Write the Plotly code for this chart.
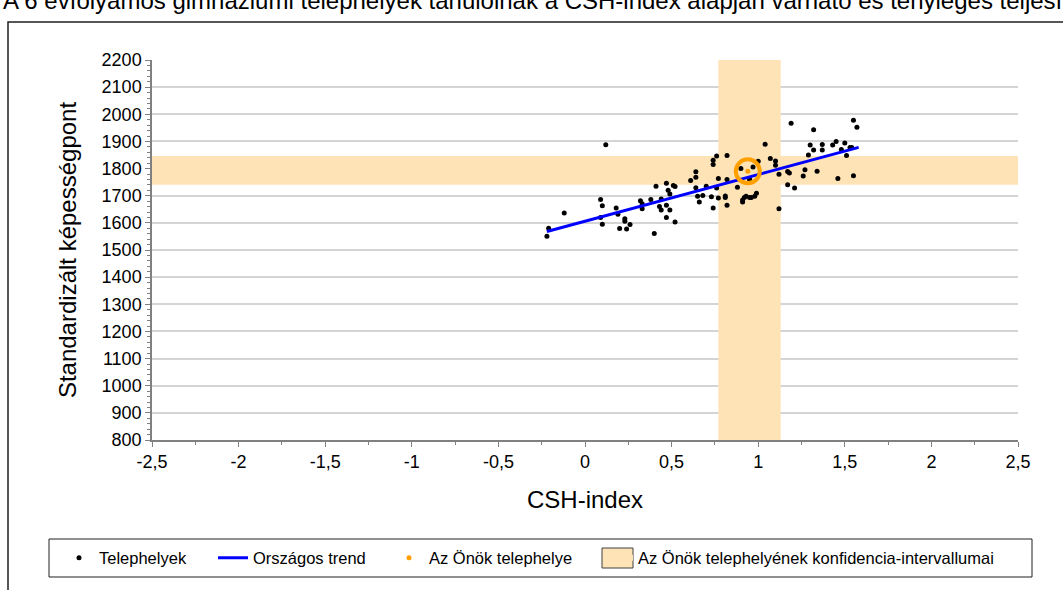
import plotly.graph_objects as go

# ---- data ----
site_csh = [-0.22, -0.21, -0.12, 0.09, 0.10, 0.09, 0.10, 0.12, 0.18, 0.19, 0.20, 0.23, 0.23, 0.24, 0.26,
            0.32, 0.33, 0.33, 0.38, 0.40, 0.41, 0.43, 0.44, 0.44, 0.47, 0.47, 0.48, 0.49, 0.49, 0.47,
            0.52, 0.51, 0.52, 0.61, 0.64, 0.64, 0.64, 0.65, 0.66, 0.68, 0.70, 0.73, 0.74, 0.74, 0.74,
            0.76, 0.76, 0.77, 0.81, 0.81, 0.82, 0.82, 0.82, 0.88, 0.90, 0.95, 0.97, 1.00, 1.04, 1.07,
            1.10, 1.10, 0.92, 0.93, 0.95, 0.96, 0.98, 0.99, 0.91, 1.12, 1.12, 1.17, 1.17, 1.18, 1.21,
            1.19, 1.26, 1.27, 1.29, 1.30, 1.32, 1.32, 1.34, 1.37, 1.37, 1.43, 1.45, 1.46, 1.48, 1.50,
            1.51, 1.53, 1.54, 1.55, 1.55, 1.57, 0.91, 0.77]
site_score = [1551, 1580, 1636, 1686, 1663, 1620, 1595, 1888, 1655, 1632, 1579, 1615, 1606, 1577, 1594,
              1681, 1670, 1652, 1686, 1561, 1735, 1660, 1647, 1688, 1665, 1746, 1720, 1706, 1647, 1620,
              1603, 1738, 1734, 1756, 1788, 1768, 1729, 1698, 1677, 1701, 1735, 1696, 1655, 1815, 1831,
              1846, 1728, 1692, 1699, 1693, 1665, 1848, 1760, 1731, 1800, 1761, 1806, 1827, 1890, 1837,
              1828, 1812, 1693, 1698, 1693, 1693, 1698, 1709, 1677, 1652, 1779, 1740, 1789, 1784, 1728,
              1967, 1773, 1796, 1850, 1887, 1868, 1943, 1790, 1889, 1868, 1887, 1900, 1763, 1870, 1894,
              1848, 1878, 1878, 1774, 1978, 1952, 1684, 1763]

trend_csh = [-0.22, 1.58]
trend_score = [1568, 1878]

own_csh = [0.94]
own_score = [1790]

ci_csh = [0.77, 1.13]
ci_score = [1740, 1846]

x_range = [-2.5, 2.5]
y_range = [800, 2200]
x_tick_vals = [-2.5, -2, -1.5, -1, -0.5, 0, 0.5, 1, 1.5, 2, 2.5]
x_tick_labels = ["-2,5", "-2", "-1,5", "-1", "-0,5", "0", "0,5", "1", "1,5", "2", "2,5"]

title_text = "A 6 évfolyamos gimnáziumi telephelyek tanulóinak a CSH-index alapján várható és tényleges teljesítménye"
names = ["Telephelyek", "Országos trend", "Az Önök telephelye",
         "Az Önök telephelyének konfidencia-intervallumai"]

FONT = "Arial, 'Liberation Sans', sans-serif"
BAND = "#FDE3B6"
ORANGE = "#FFA000"

W, H = 1063, 590
L, R, T, B = 152, 45, 60, 150
pw, ph = W - L - R, H - T - B


def px_x(p):
    return (p - L) / pw


def px_y(p):
    return (H - B - p) / ph


fig = go.Figure()

# confidence bands (vertical + horizontal), one trace
band_x = [ci_csh[0], ci_csh[1], ci_csh[1], ci_csh[0], ci_csh[0], None,
          x_range[0], x_range[1], x_range[1], x_range[0], x_range[0]]
band_y = [y_range[0], y_range[0], y_range[1], y_range[1], y_range[0], None,
          ci_score[0], ci_score[0], ci_score[1], ci_score[1], ci_score[0]]
fig.add_trace(go.Scatter(x=band_x, y=band_y, mode="none", fill="toself", fillcolor=BAND,
                         showlegend=False, hoverinfo="skip"))

fig.add_trace(go.Scatter(x=site_csh, y=site_score, mode="markers", name=names[0],
                         marker=dict(color="black", size=5), legend="legend"))
fig.add_trace(go.Scatter(x=trend_csh, y=trend_score, mode="lines", name=names[1],
                         line=dict(color="#0000FF", width=3), legend="legend2"))
# ring around own site
fig.add_trace(go.Scatter(x=own_csh, y=own_score, mode="markers", showlegend=False,
                         marker=dict(symbol="circle-open", size=24, color=ORANGE,
                                     line=dict(width=4, color=ORANGE)), hoverinfo="skip"))
fig.add_trace(go.Scatter(x=own_csh, y=own_score, mode="markers", name=names[2],
                         marker=dict(color=ORANGE, size=5), legend="legend3"))
# legend entry for the bands
fig.add_trace(go.Scatter(x=[None], y=[None], mode="none", fill="toself", fillcolor=BAND,
                         name=names[3], legend="legend4"))

leg_common = dict(orientation="h", bgcolor="rgba(0,0,0,0)", borderwidth=0,
                  font=dict(family=FONT, size=16.5, color="black"),
                  xref="container", yref="container", xanchor="left", yanchor="middle")
yleg = (H - 558) / H
fig.update_layout(
    legend=dict(x=59 / W, y=yleg, **leg_common),
    legend2=dict(x=213 / W, y=yleg, **leg_common),
    legend3=dict(x=389 / W, y=yleg, **leg_common),
    legend4=dict(x=598 / W, y=yleg, **leg_common),
)

fig.update_xaxes(range=x_range, tickvals=x_tick_vals, ticktext=x_tick_labels,
                 showgrid=False, zeroline=False, showline=True, linecolor="#808080", linewidth=1.5,
                 ticks="outside", ticklen=5, tickcolor="#808080", tickwidth=1,
                 minor=dict(dtick=0.25, ticks="outside", ticklen=3, tickcolor="#808080"),
                 tickfont=dict(family=FONT, size=18, color="black"),
                 title=dict(text="CSH-index", font=dict(family=FONT, size=24, color="black"), standoff=20))
fig.update_yaxes(range=y_range, dtick=100, tick0=800,
                 showgrid=True, gridcolor="#D4D4D4", gridwidth=1.5, zeroline=False,
                 showline=True, linecolor="#808080", linewidth=1.5,
                 ticks="outside", ticklen=5, tickcolor="#808080", tickwidth=1,
                 minor=dict(dtick=20, ticks="outside", ticklen=3, tickcolor="#808080", showgrid=False),
                 tickfont=dict(family=FONT, size=18, color="black"),
                 title=dict(text="Standardizált képességpont", font=dict(family=FONT, size=24, color="black"),
                            standoff=18))

fig.update_layout(
    width=W, height=H, autosize=False,
    margin=dict(l=L, r=R, t=T, b=B, pad=0),
    paper_bgcolor="white", plot_bgcolor="white",
    font=dict(family=FONT, color="black"),
    shapes=[
        # outer frame (top and left edges visible)
        dict(type="rect", xref="paper", yref="paper", x0=px_x(8), x1=px_x(1100), y0=px_y(640), y1=px_y(22),
             line=dict(color="#202020", width=1.5), fillcolor="rgba(0,0,0,0)", layer="above"),
        # legend frame
        dict(type="rect", xref="paper", yref="paper", x0=px_x(49), x1=px_x(1032), y0=px_y(577), y1=px_y(539),
             line=dict(color="#202020", width=1), fillcolor="rgba(0,0,0,0)", layer="above"),
        # outlined swatch for the confidence-interval legend entry
        dict(type="rect", xref="paper", yref="paper", x0=px_x(602), x1=px_x(633), y0=px_y(568), y1=px_y(548),
             line=dict(color="#404040", width=1), fillcolor=BAND, layer="above"),
    ],
    annotations=[
        dict(text=title_text, xref="paper", yref="paper", x=px_x(1), y=px_y(16), xanchor="left",
             yanchor="bottom", showarrow=False, font=dict(family=FONT, size=24, color="black")),
    ],
)

fig.write_html("out.html", post_script="document.body.style.margin='0';",
               config={"displayModeBar": False})
